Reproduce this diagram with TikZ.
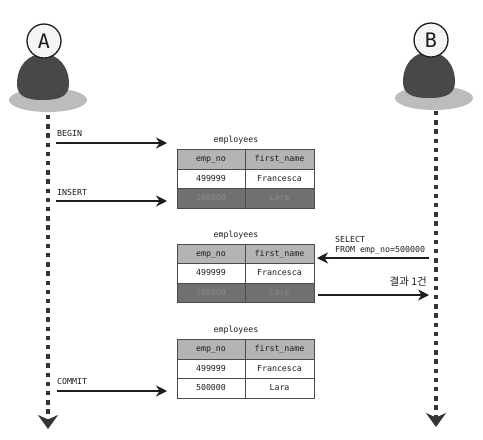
\documentclass[tikz,border=0pt]{standalone}
\usepackage{fontspec}
\setmonofont{DejaVu Sans Mono}
\newfontfamily\krfont{Noto Sans CJK KR}
\usetikzlibrary{arrows.meta,positioning,shapes.geometric}
\definecolor{txdark}{RGB}{30,30,30}
\definecolor{bodygray}{RGB}{72,72,72}
\definecolor{floorgray}{RGB}{188,188,188}
\definecolor{headgray}{RGB}{180,180,180}
\definecolor{rowgray}{RGB}{112,112,112}
\definecolor{fadegray}{RGB}{138,138,138}

\begin{document}
\begin{tikzpicture}[
  x=1pt, y=-1pt,
  node distance=0pt and 0pt,
  every node/.style={font=\ttfamily\fontsize{8.3}{10}\selectfont, text=txdark},
  cell/.style={draw=txdark!80, line width=0.5pt, outer sep=0pt, inner sep=0pt,
    minimum height=19.5pt, text height=6.2pt, text depth=1.6pt, fill=white},
  keycell/.style={cell, minimum width=68pt},
  namecell/.style={cell, minimum width=69pt},
  headkey/.style={keycell, fill=headgray},
  headname/.style={namecell, fill=headgray},
  darkkey/.style={keycell, fill=rowgray, text=fadegray},
  darkname/.style={namecell, fill=rowgray, text=fadegray},
  lab/.style={inner sep=0pt, align=left},
  head/.style={circle, draw=txdark, line width=1.3pt, fill=white!96!black, minimum size=34pt,
    inner sep=0pt, font=\ttfamily\fontsize{20}{20}\selectfont},
  floor/.style={ellipse, fill=floorgray, minimum width=78pt, minimum height=24pt, inner sep=0pt},
  arr/.style={-{Stealth[length=11pt, width=11pt, inset=3.5pt]}, draw=txdark, line width=1.1pt},
  life/.style={-{Stealth[length=14pt, width=20pt, inset=4.5pt]}, draw=txdark!90, line width=4.4pt,
    dash pattern=on 4.4pt off 4.8pt}
]
  \useasboundingbox (0,0) rectangle (483,440);
  \fill[white] (0,0) rectangle (483,440);

  % client A
  \node[floor] (floorA) at (48,100) {};
  \fill[bodygray] (17,84) .. controls (17,66) and (28,54) .. (43,54) .. controls (58,54) and (69,66) .. (69,84)
    .. controls (69,96) and (60,100) .. (43,100) .. controls (26,100) and (17,96) .. (17,84) -- cycle;
  \node[head] (headA) at (44,41) {A};
  % client B
  \node[floor] (floorB) at (434,98) {};
  \fill[bodygray] (403,82) .. controls (403,64) and (414,52) .. (429,52) .. controls (444,52) and (455,64) .. (455,82)
    .. controls (455,94) and (446,98) .. (429,98) .. controls (412,98) and (403,94) .. (403,82) -- cycle;
  \node[head] (headB) at (431,40) {B};

  \coordinate (lifeAtop) at (48,115);
  \coordinate (lifeAend) at (48,429);
  \coordinate (lifeBtop) at (436,111);
  \coordinate (lifeBend) at (436,427);
  \draw[life] (lifeAtop) -- (lifeAend);
  \draw[life] (lifeBtop) -- (lifeBend);

  % first state
  \node[lab] (titleOne) at (236,140) {employees};
  \node[headkey, anchor=north west] (keyOne) at (177,149.5) {emp\_no};
  \node[headname, right=of keyOne] (nameOne) {first\_name};
  \node[keycell, below=of keyOne] (oldkeyOne) {499999};
  \node[namecell, below=of nameOne] (oldnameOne) {Francesca};
  \node[darkkey, below=of oldkeyOne] (newkeyOne) {500000};
  \node[darkname, below=of oldnameOne] (newnameOne) {Lara};

  % second state
  \node[lab] (titleTwo) at (236,235) {employees};
  \node[headkey, anchor=north west] (keyTwo) at (177,244) {emp\_no};
  \node[headname, right=of keyTwo] (nameTwo) {first\_name};
  \node[keycell, below=of keyTwo] (oldkeyTwo) {499999};
  \node[namecell, below=of nameTwo] (oldnameTwo) {Francesca};
  \node[darkkey, below=of oldkeyTwo] (newkeyTwo) {500000};
  \node[darkname, below=of oldnameTwo] (newnameTwo) {Lara};

  % third state
  \node[lab] (titleThree) at (236,330) {employees};
  \node[headkey, anchor=north west] (keyThree) at (177,339.5) {emp\_no};
  \node[headname, right=of keyThree] (nameThree) {first\_name};
  \node[keycell, below=of keyThree] (oldkeyThree) {499999};
  \node[namecell, below=of nameThree] (oldnameThree) {Francesca};
  \node[keycell, below=of oldkeyThree] (newkeyThree) {500000};
  \node[namecell, below=of oldnameThree] (newnameThree) {Lara};

  % statements
  \coordinate (beginA) at (56,143);
  \coordinate (beginT) at (167,143);
  \coordinate (insertA) at (56,201);
  \coordinate (insertT) at (167,201);
  \coordinate (commitA) at (57,391);
  \coordinate (commitT) at (167,391);
  \coordinate (selectB) at (429,258);
  \coordinate (selectT) at (317,258);
  \coordinate (resultT) at (318,295);
  \coordinate (resultB) at (429,295);

  \draw[arr] (beginA) -- (beginT);
  \draw[arr] (insertA) -- (insertT);
  \draw[arr] (commitA) -- (commitT);
  \draw[arr] (selectB) -- (selectT);
  \draw[arr] (resultT) -- (resultB);

  \node[lab, anchor=west] (beginlab) at (57,133) {BEGIN};
  \node[lab, anchor=west] (insertlab) at (57,192) {INSERT};
  \node[lab, anchor=west] (commitlab) at (57,381) {COMMIT};
  \node[lab, anchor=west] (selectlab) at (335,245.5) {SELECT\\FROM emp\_no=500000};
  \node[lab, anchor=east, font=\krfont\fontsize{10.5}{12}\selectfont] (resultlab) at (427,281.5) {결과 1건};
\end{tikzpicture}
\end{document}
